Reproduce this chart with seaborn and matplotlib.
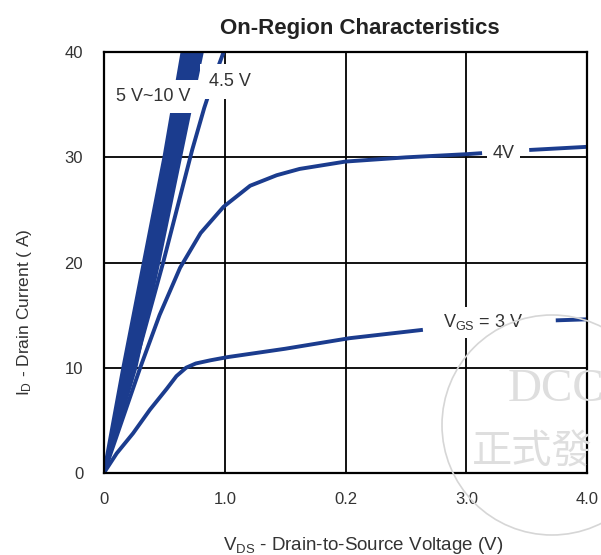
import matplotlib
matplotlib.use('Agg')
import matplotlib.pyplot as plt
import seaborn as sns
from matplotlib.patches import Circle

# 5 V ~ 10 V band (drawn as a filled wedge)
band_id = [0, 10, 20, 30, 40]
band_vds_left = [0, 0.16, 0.33, 0.50, 0.65]
band_vds_right = [0, 0.26, 0.45, 0.63, 0.81]

# 4.5 V
vds_45 = [0, 0.25, 0.49, 0.73, 0.83, 0.91, 0.99]
id_45 = [0, 10, 20, 30.7, 34.7, 37.5, 40]

# 4 V (two pieces, broken by the label)
vds_4a = [0, 0.15, 0.30, 0.46, 0.63, 0.80, 0.99, 1.21, 1.43, 1.62, 2.0, 2.5, 3.0, 3.13]
id_4a = [0, 5, 10, 15, 19.5, 22.8, 25.3, 27.3, 28.3, 28.9, 29.6, 30.0, 30.3, 30.4]
vds_4b = [3.52, 4.0]
id_4b = [30.7, 31.0]

# 3 V (two pieces)
vds_3a = [0, 0.105, 0.24, 0.38, 0.52, 0.60, 0.68, 0.76, 0.88, 1.02, 1.5, 2.03, 2.64]
id_3a = [0, 1.85, 3.75, 6.0, 8.0, 9.2, 10.0, 10.4, 10.7, 11.0, 11.8, 12.8, 13.6]
vds_3b = [3.74, 4.0]
id_3b = [14.5, 14.6]

x_ticks = [0, 1, 2, 3, 4]
x_ticklabels = ['0', '1.0', '0.2', '3.0', '4.0']
y_ticks = [0, 10, 20, 30, 40]

BLUE = '#1b3c8e'
TXT = '#333333'

sns.set_style('white')
plt.rcParams['font.family'] = ['Liberation Sans', 'DejaVu Sans']
plt.rcParams['mathtext.fontset'] = 'custom'
plt.rcParams['mathtext.rm'] = 'Liberation Sans'
plt.rcParams['mathtext.it'] = 'Liberation Sans'
plt.rcParams['mathtext.default'] = 'regular'

fig = plt.figure(figsize=(6.01, 5.55), dpi=100)
ax = fig.add_axes([0.173, 0.148, 0.804, 0.758])


def curve(v, i):
    sns.lineplot(x=v, y=i, ax=ax, color=BLUE, lw=2.8, sort=False,
                 estimator=None, solid_capstyle='butt', zorder=2)


ax.fill_betweenx(band_id, band_vds_left, band_vds_right, color=BLUE, lw=0, zorder=2)
curve(band_vds_left, band_id)
curve(band_vds_right, band_id)
curve(vds_45, id_45)
curve(vds_4a, id_4a)
curve(vds_4b, id_4b)
curve(vds_3a, id_3a)
curve(vds_3b, id_3b)

ax.set_xlim(0, 4)
ax.set_ylim(0, 40)
ax.set_xticks(x_ticks)
ax.set_xticklabels(x_ticklabels)
ax.set_yticks(y_ticks)
ax.tick_params(length=0, labelsize=12, colors=TXT)
ax.tick_params(axis='x', pad=14)
ax.tick_params(axis='y', pad=15)
ax.grid(True, color='black', lw=1.3)
ax.set_axisbelow(True)
for s in ax.spines.values():
    s.set_color('black')
    s.set_linewidth(1.6)

box = dict(boxstyle='square,pad=0.3', fc='white', ec='none')
ax.text(0.41, 35.8, '5 V~10 V', fontsize=13, color=TXT, ha='center', va='center',
        bbox=dict(boxstyle='square,pad=0.45', fc='white', ec='none'), zorder=3)
ax.text(0.87, 37.2, '4.5 V', fontsize=13, color=TXT, ha='left', va='center',
        bbox=dict(boxstyle='square,pad=0.5', fc='white', ec='none'), zorder=3)
ax.text(3.31, 30.4, '4V', fontsize=13, color=TXT, ha='center', va='center',
        bbox=box, zorder=3)
ax.text(3.14, 14.3, 'V$_{GS}$ = 3 V', fontsize=13, color=TXT, ha='center', va='center',
        bbox=box, zorder=3)

ax.set_title('On-Region Characteristics', fontsize=16, fontweight='bold',
             color='#222222', x=0.53, pad=13)
ax.set_xlabel('V$_{DS}$ - Drain-to-Source Voltage (V)', fontsize=13.5, color=TXT)
ax.xaxis.set_label_coords(0.536, -0.148)
ax.set_ylabel('I$_{D}$ - Drain Current ( A)', fontsize=12.5, color=TXT)
ax.yaxis.set_label_coords(-0.145, 0.382)

# faint stamp in the lower right corner
fig.add_artist(Circle((5.52, 1.30), 1.10, transform=fig.dpi_scale_trans,
                      fill=False, ec='#d6d6d6', lw=1.2))
fig.text(508 / 601, 1 - 390 / 555, 'DCC', fontsize=34, color='#dedede',
         family='Liberation Serif', ha='left', va='center')
fig.text(472 / 601, 1 - 452 / 555, '正式發', fontsize=29, color='#dedede',
         family=['Noto Sans CJK TC', 'DejaVu Sans'], ha='left', va='center')

fig.savefig('out.png', dpi=100)
